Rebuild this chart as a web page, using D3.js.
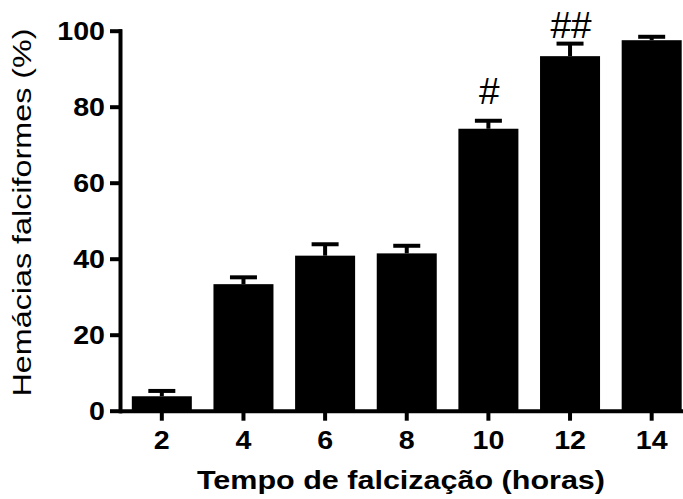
<!DOCTYPE html>
<html>
<head>
<meta charset="utf-8">
<script src="https://cdn.jsdelivr.net/npm/d3@7"></script>
<style>
  body { margin: 0; background: #fff; }
  svg { display: block; font-family: Arial, "Liberation Sans", Helvetica, sans-serif; }
  .axis path, .axis line { stroke: #000; stroke-width: 4; stroke-linecap: square; }
  .axis text { font-size: 26px; font-weight: bold; fill: #000; }
</style>
</head>
<body>
<svg id="chart" width="683" height="499"></svg>
<script>
	// data
	const hours = ["2", "4", "6", "8", "10", "12", "14"];
	const means = [3.8, 33.3, 40.8, 41.4, 74.2, 93.3, 97.5];
	const sems = [1.4, 1.8, 3.0, 2.0, 2.1, 3.3, 0.9];
	const marks = ["", "", "", "", "#", "##", ""];
	const markAt = [0, 0, 0, 0, 80.7, 98.1, 0];
	const yTicks = [0, 20, 40, 60, 80, 100];

	const data = hours.map((h, i) => ({h, mean: means[i], sem: sems[i], mark: marks[i], markAt: markAt[i]}));

	const svg = d3.select("#chart");

	const x = d3.scaleBand()
		.domain(hours)
		.range([121, 692.5])
		.paddingInner(0.265)
		.paddingOuter(0.1325);
	const y = d3.scaleLinear()
		.domain([0, 100])
		.range([410.7, 30.7]);

	/*============= bars ===============*/
	svg.append("g").selectAll("rect")
		.data(data)
		.enter().append("rect")
		.attr("x", d => x(d.h))
		.attr("width", x.bandwidth())
		.attr("y", d => y(d.mean))
		.attr("height", d => y(0) - y(d.mean))
		.attr("fill", "#000");

	/*============= error bars (upper only) ===============*/
	const eb = svg.append("g").attr("stroke", "#000").attr("stroke-width", 4);
	eb.selectAll("line.stem")
		.data(data)
		.enter().append("line")
		.attr("class", "stem")
		.attr("x1", d => x(d.h) + x.bandwidth() / 2)
		.attr("x2", d => x(d.h) + x.bandwidth() / 2)
		.attr("y1", d => y(d.mean))
		.attr("y2", d => y(d.mean + d.sem));
	eb.selectAll("line.cap")
		.data(data)
		.enter().append("line")
		.attr("class", "cap")
		.attr("x1", d => x(d.h) + x.bandwidth() / 2 - 13.5)
		.attr("x2", d => x(d.h) + x.bandwidth() / 2 + 13.5)
		.attr("y1", d => y(d.mean + d.sem))
		.attr("y2", d => y(d.mean + d.sem));

	/*============= significance marks ===============*/
	svg.append("g").selectAll("text")
		.data(data.filter(d => d.mark))
		.enter().append("text")
		.attr("x", d => x(d.h) + x.bandwidth() / 2 + 1)
		.attr("y", d => y(d.markAt))
		.attr("text-anchor", "middle")
		.style("font-size", "37px")
		.text(d => d.mark);

	/*============= axes ===============*/
	const xAxis = d3.axisBottom(x).tickSize(8).tickSizeOuter(0).tickPadding(12);
	svg.append("g")
		.attr("class", "axis")
		.attr("transform", `translate(0,${y(0)})`)
		.call(xAxis);

	const yAxis = d3.axisLeft(y).tickValues(yTicks).tickSize(8).tickSizeOuter(0).tickPadding(7);
	svg.append("g")
		.attr("class", "axis")
		.attr("transform", "translate(120,0)")
		.call(yAxis);

	// the figure's digits are a little wider than the font
	svg.selectAll(".axis text").each(function() {
		const w = this.getComputedTextLength();
		d3.select(this).attr("textLength", w * 1.1).attr("lengthAdjust", "spacingAndGlyphs");
	});

	/*============= titles ===============*/
	svg.append("text")
		.attr("x", 401)
		.attr("y", 489)
		.attr("text-anchor", "middle")
		.attr("textLength", 408)
		.attr("lengthAdjust", "spacingAndGlyphs")
		.style("font-size", "25px")
		.style("font-weight", "bold")
		.text("Tempo de falcização (horas)");

	svg.append("text")
		.attr("transform", "translate(31,212.5) rotate(-90)")
		.attr("text-anchor", "middle")
		.attr("textLength", 368)
		.attr("lengthAdjust", "spacingAndGlyphs")
		.style("font-size", "25px")
		.text("Hemácias falciformes (%)");
</script>
</body>
</html>
